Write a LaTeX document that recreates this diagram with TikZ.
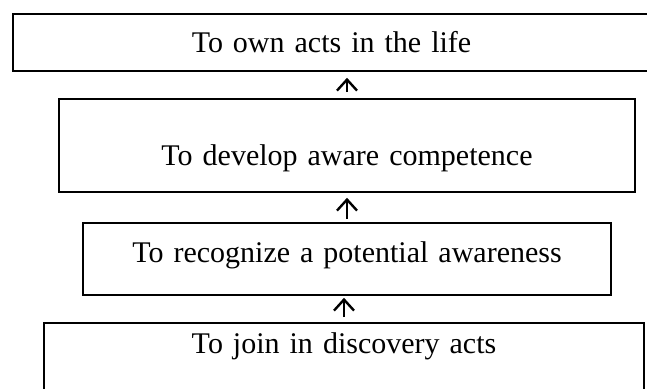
\documentclass[tikz,border=0pt]{standalone}
\usepackage{fontspec}
\setmainfont{Liberation Serif}
\usepackage{tikz}
\usetikzlibrary{arrows.meta}
\tikzset{
	>={Straight Barb[length=5.5pt,width=10pt]},
	stage/.style={draw, line width=0.8pt, inner sep=0pt, align=center, anchor=base,
		font=\fontsize{15pt}{18pt}\selectfont},
	step up/.style={->, line width=1.2pt},
	baseline}

\begin{document}
\begin{tikzpicture}[x=0.5pt, y=-0.5pt]
		\useasboundingbox (0,0) rectangle (647,389);
		
		\node[stage, text width=318.5pt, text height=19.5pt, text depth=9pt] (life) at (331.5,53) {To own acts in the life};
		\node[stage, text width=288pt, text height=33.5pt, text depth=13pt] (competence) at (347,166) {To develop aware competence};
		\node[stage, text width=264pt, text height=20pt, text depth=16pt] (awareness) at (347,263) {To recognize a potential awareness};
		\node[stage, text width=300pt, text height=15pt, text depth=23.5pt] (discovery) at (344,353) {To join in discovery acts};
		
		\path
		(competence.north) edge[step up, shorten <=3pt, shorten >=3pt] (competence.north |- life.south)
		(awareness.north) edge[step up, shorten <=1.5pt, shorten >=2.5pt] (awareness.north |- competence.south)
		(discovery.north) edge[step up, shorten <=2.5pt, shorten >=1pt] (discovery.north |- awareness.south)
		;
	\end{tikzpicture}
\end{document}
